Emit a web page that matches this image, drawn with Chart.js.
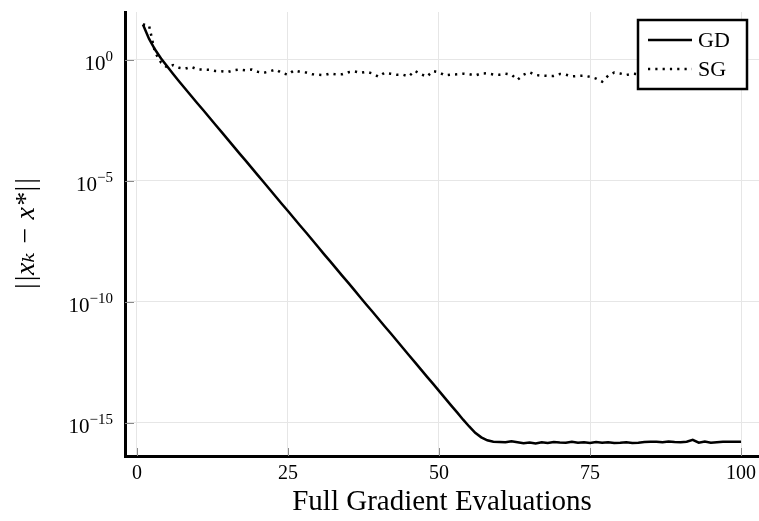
<!DOCTYPE html>
<html>
<head>
<meta charset="utf-8">
<script src="https://cdn.jsdelivr.net/npm/chart.js@4/dist/chart.umd.min.js"></script>
<style>
  html, body { margin: 0; padding: 0; background: #fff; }
  #wrap { width: 759px; height: 521px; position: relative; }
</style>
</head>
<body>
<div id="wrap"><canvas id="convChart"></canvas></div>
<script>
// iterations (full gradient evaluations)
const iterations = [
  1, 2, 3, 4, 5, 6, 7, 8, 9, 10, 11, 12, 13, 14, 15, 16, 17, 18, 19, 20,
  21, 22, 23, 24, 25, 26, 27, 28, 29, 30, 31, 32, 33, 34, 35, 36, 37, 38, 39, 40,
  41, 42, 43, 44, 45, 46, 47, 48, 49, 50, 51, 52, 53, 54, 55, 56, 57, 58, 59, 60,
  61, 62, 63, 64, 65, 66, 67, 68, 69, 70, 71, 72, 73, 74, 75, 76, 77, 78, 79, 80,
  81, 82, 83, 84, 85, 86, 87, 88, 89, 90, 91, 92, 93, 94, 95, 96, 97, 98, 99, 100
];

// log10 of ||x_k - x*||
const gdLog10 = [
  1.45, 0.87, 0.42, 0.05, -0.27, -0.59, -0.90, -1.20, -1.50, -1.80,
  -2.09, -2.39, -2.69, -2.98, -3.28, -3.58, -3.88, -4.17, -4.47, -4.77,
  -5.06, -5.36, -5.66, -5.96, -6.25, -6.55, -6.85, -7.14, -7.44, -7.74,
  -8.04, -8.33, -8.63, -8.93, -9.22, -9.52, -9.82, -10.12, -10.41, -10.71,
  -11.01, -11.30, -11.60, -11.90, -12.20, -12.49, -12.79, -13.09, -13.38, -13.68,
  -13.98, -14.28, -14.57, -14.87, -15.15, -15.41, -15.60, -15.72, -15.78, -15.79,
  -15.80, -15.76, -15.80, -15.84, -15.81, -15.85, -15.80, -15.83, -15.79, -15.81,
  -15.82, -15.78, -15.82, -15.80, -15.83, -15.79, -15.82, -15.80, -15.83, -15.82,
  -15.80, -15.83, -15.82, -15.79, -15.78, -15.78, -15.80, -15.77, -15.79, -15.80,
  -15.78, -15.70, -15.82, -15.77, -15.82, -15.80, -15.78, -15.78, -15.78, -15.78
];

const sgLog10 = [
  1.45, 1.42, 0.30, -0.12, -0.32, -0.22, -0.33, -0.37, -0.30, -0.40,
  -0.41, -0.42, -0.47, -0.48, -0.51, -0.44, -0.41, -0.44, -0.41, -0.50,
  -0.54, -0.48, -0.41, -0.55, -0.62, -0.44, -0.50, -0.53, -0.60, -0.62,
  -0.64, -0.57, -0.61, -0.60, -0.52, -0.48, -0.54, -0.50, -0.57, -0.70,
  -0.54, -0.58, -0.62, -0.62, -0.69, -0.46, -0.60, -0.70, -0.47, -0.52,
  -0.65, -0.62, -0.60, -0.58, -0.60, -0.65, -0.57, -0.56, -0.61, -0.62,
  -0.58, -0.62, -0.83, -0.62, -0.52, -0.63, -0.66, -0.67, -0.67, -0.59,
  -0.62, -0.69, -0.67, -0.66, -0.71, -0.78, -0.91, -0.66, -0.53, -0.57,
  -0.63, -0.58, -0.60, -0.66, -0.55, -0.62, -0.70, -0.58, -0.64, -0.61,
  -0.57, -0.66, -0.63, -0.59, -0.68, -0.62, -0.56, -0.64, -0.60, -0.65
];

const seriesLabels = ['GD', 'SG'];
const xTicks = [0, 25, 50, 75, 100];
const yTickExps = [0, -5, -10, -15];

const FONT = "'Liberation Serif', 'DejaVu Serif', serif";

function toPoints(logs) {
    return logs.map((v, i) => ({ x: iterations[i], y: Math.pow(10, v) }));
}

// inward tick marks + "10^k" labels with a raised exponent
const axisDecor = {
    id: 'axisDecor',
    beforeDatasetsDraw(chart) {
        const { ctx, chartArea, scales } = chart;
        ctx.save();
        ctx.strokeStyle = '#8a8a8a';
        ctx.lineWidth = 1;
        ctx.beginPath();
        xTicks.forEach(v => {
            const px = Math.round(scales.x.getPixelForValue(v)) + 0.5;
            ctx.moveTo(px, chartArea.bottom);
            ctx.lineTo(px, chartArea.bottom - 8);
        });
        yTickExps.forEach(e => {
            const py = Math.round(scales.y.getPixelForValue(Math.pow(10, e))) + 0.5;
            ctx.moveTo(chartArea.left, py);
            ctx.lineTo(chartArea.left + 9, py);
        });
        ctx.stroke();
        ctx.restore();
    },
    afterDraw(chart) {
        const { ctx, chartArea, scales } = chart;
        ctx.save();
        ctx.fillStyle = '#000';
        ctx.textBaseline = 'alphabetic';
        ctx.textAlign = 'left';
        yTickExps.forEach(e => {
            const py = scales.y.getPixelForValue(Math.pow(10, e));
            const expText = String(e).replace('-', '−');
            ctx.font = '15px ' + FONT;
            const expW = ctx.measureText(expText).width;
            ctx.font = '21px ' + FONT;
            const baseW = ctx.measureText('10').width;
            const right = chartArea.left - 12;
            ctx.fillText('10', right - expW - baseW, py + 10);
            ctx.font = '15px ' + FONT;
            ctx.fillText(expText, right - expW, py + 1);
        });
        ctx.restore();
    }
};

// boxed legend inside the top right corner
const boxLegend = {
    id: 'boxLegend',
    afterDatasetsDraw(chart) {
        const { ctx, chartArea } = chart;
        const w = 109, h = 69;
        const left = chartArea.right - 12 - w;
        const top = chartArea.top + 8;
        ctx.save();
        ctx.fillStyle = '#fff';
        ctx.fillRect(left, top, w, h);
        ctx.strokeStyle = '#000';
        ctx.lineWidth = 2.5;
        ctx.strokeRect(left, top, w, h);

        chart.data.datasets.forEach((ds, i) => {
            const y = top + 20 + i * 29;
            ctx.beginPath();
            ctx.lineWidth = ds.borderWidth;
            ctx.setLineDash(ds.borderDash || []);
            ctx.moveTo(left + 10, y);
            ctx.lineTo(left + 54, y);
            ctx.stroke();
            ctx.setLineDash([]);
            ctx.fillStyle = '#000';
            ctx.font = '22px ' + FONT;
            ctx.textBaseline = 'middle';
            ctx.fillText(ds.label, left + 60, y + 1);
        });
        ctx.restore();
    }
};

const convChart = new Chart(document.getElementById('convChart'), {
    type: 'line',
    data: {
        datasets: [
            {
                label: seriesLabels[0],
                data: toPoints(gdLog10),
                borderColor: '#000',
                borderWidth: 2.5,
                pointRadius: 0,
                tension: 0
            },
            {
                label: seriesLabels[1],
                data: toPoints(sgLog10),
                borderColor: '#000',
                borderWidth: 2.5,
                borderDash: [2.2, 5.1],
                pointRadius: 0,
                tension: 0
            }
        ]
    },
    options: {
        responsive: true,
        maintainAspectRatio: false,
        animation: false,
        devicePixelRatio: 1,
        layout: { padding: { top: 12, right: 0, left: 0, bottom: 0 } },
        plugins: {
            legend: { display: false },
            tooltip: { enabled: false }
        },
        scales: {
            x: {
                type: 'linear',
                min: -1.97,
                max: 102.97,
                afterBuildTicks: scale => { scale.ticks = xTicks.map(v => ({ value: v })); },
                afterFit: scale => { scale.height = 65; scale.paddingLeft = 0; scale.paddingRight = 0; },
                ticks: {
                    color: '#000',
                    font: { family: FONT, size: 20 },
                    padding: 6,
                    maxRotation: 0
                },
                grid: { color: '#e6e6e6', lineWidth: 1, drawTicks: false },
                border: { color: '#000', width: 3 },
                title: {
                    display: true,
                    text: 'Full Gradient Evaluations',
                    color: '#000',
                    font: { family: FONT, size: 29 },
                    padding: { top: 0, bottom: 1 }
                }
            },
            y: {
                type: 'logarithmic',
                min: Math.pow(10, -16.37),
                max: Math.pow(10, 1.97),
                afterBuildTicks: scale => { scale.ticks = yTickExps.map(e => ({ value: Math.pow(10, e) })); },
                afterFit: scale => { scale.width = 125; scale.paddingTop = 0; scale.paddingBottom = 0; },
                ticks: { display: false },
                grid: { color: '#e6e6e6', lineWidth: 1, drawTicks: false },
                border: { color: '#000', width: 3 },
                title: {
                    display: true,
                    text: '||xₖ − x*||',
                    color: '#000',
                    font: { family: FONT, size: 28, style: 'italic' },
                    padding: { top: 10, bottom: 0 }
                }
            }
        }
    },
    plugins: [axisDecor, boxLegend]
});
</script>
</body>
</html>
